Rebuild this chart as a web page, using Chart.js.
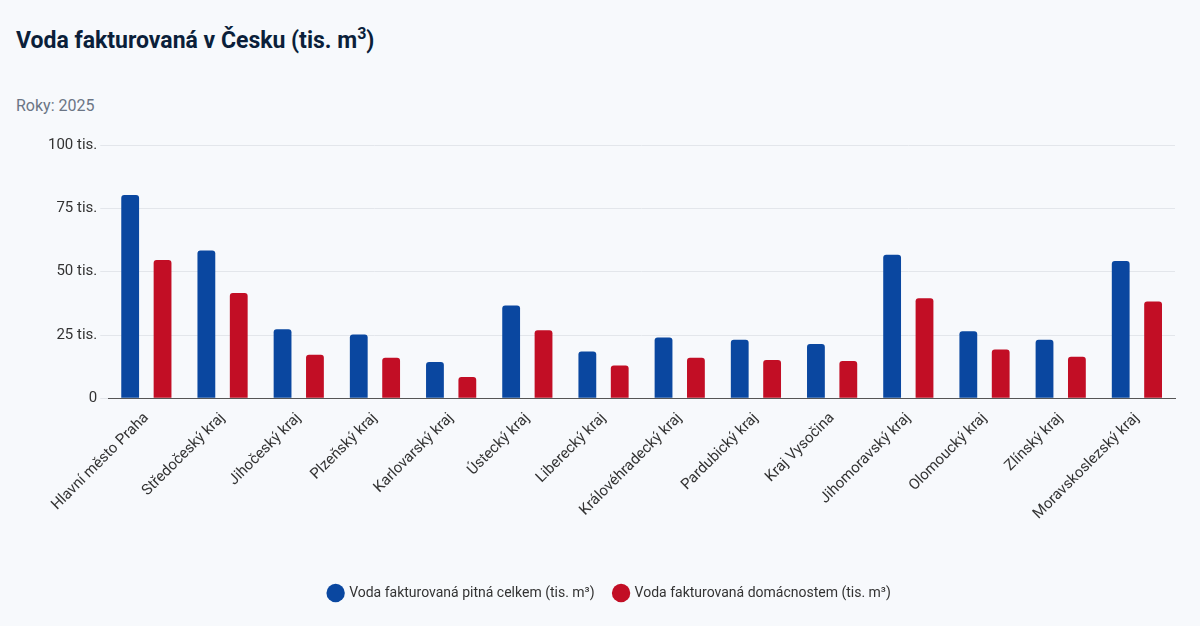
<!DOCTYPE html>
<html><head><meta charset="utf-8">
<script src="https://cdn.jsdelivr.net/npm/chart.js@4"></script>
<style>
body{margin:0;background:#f7f9fc;font-family:Roboto,sans-serif;}
#t{position:absolute;left:16px;top:24px;font-size:23px;font-weight:bold;color:#0b1f3a;}
#s{position:absolute;left:16px;top:96px;font-size:16px;color:#6b7585;}
#w{position:absolute;left:0;top:125px;width:1200px;height:485px;}
</style></head><body>
<div id="t">Voda fakturovaná v Česku (tis. m<sup style="font-size:16px">3</sup>)</div>
<div id="s">Roky: 2025</div>
<div id="w"><canvas id="c"></canvas></div>
<script>
const categories=["Hlavní město Praha","Středočeský kraj","Jihočeský kraj","Plzeňský kraj","Karlovarský kraj","Ústecký kraj","Liberecký kraj","Královéhradecký kraj","Pardubický kraj","Kraj Vysočina","Jihomoravský kraj","Olomoucký kraj","Zlínský kraj","Moravskoslezský kraj"];
const celkem=[80.3,58.4,27.3,25.2,14.3,36.6,18.5,24.0,23.1,21.4,56.7,26.5,23.1,54.2];
const domacnosti=[54.6,41.6,17.2,16.0,8.4,26.9,13.0,16.0,15.1,14.7,39.5,19.3,16.4,38.2];
const seriesNames=["Voda fakturovaná pitná celkem (tis. m³)","Voda fakturovaná domácnostem (tis. m³)"];
Chart.defaults.font.family="Roboto, sans-serif";
new Chart(document.getElementById('c'),{type:'bar',
data:{labels:categories,datasets:[
{label:seriesNames[0],data:celkem,backgroundColor:'#0a47a0',borderRadius:{topLeft:3,topRight:3},borderSkipped:'bottom',barPercentage:0.55,categoryPercentage:0.85},
{label:seriesNames[1],data:domacnosti,backgroundColor:'#c20e25',borderRadius:{topLeft:3,topRight:3},borderSkipped:'bottom',barPercentage:0.55,categoryPercentage:0.85}]},
options:{responsive:true,maintainAspectRatio:false,animation:false,
layout:{padding:{left:45,right:25,top:20,bottom:0}},
plugins:{legend:{position:'bottom',labels:{usePointStyle:true,pointStyle:'circle',boxWidth:13,boxHeight:13,padding:20,color:'#333',font:{size:14}}},tooltip:{enabled:false}},
scales:{x:{grid:{display:false},border:{color:'#555'},ticks:{color:'#333',font:{size:15},maxRotation:45,minRotation:45},afterFit:s=>{s.height+=40;}},
y:{min:0,max:100,ticks:{stepSize:25,color:'#333',font:{size:15},callback:v=>v===0?'0':v+' tis.'},grid:{color:'#e3e6eb'},border:{display:false}}}}});
</script></body></html>
